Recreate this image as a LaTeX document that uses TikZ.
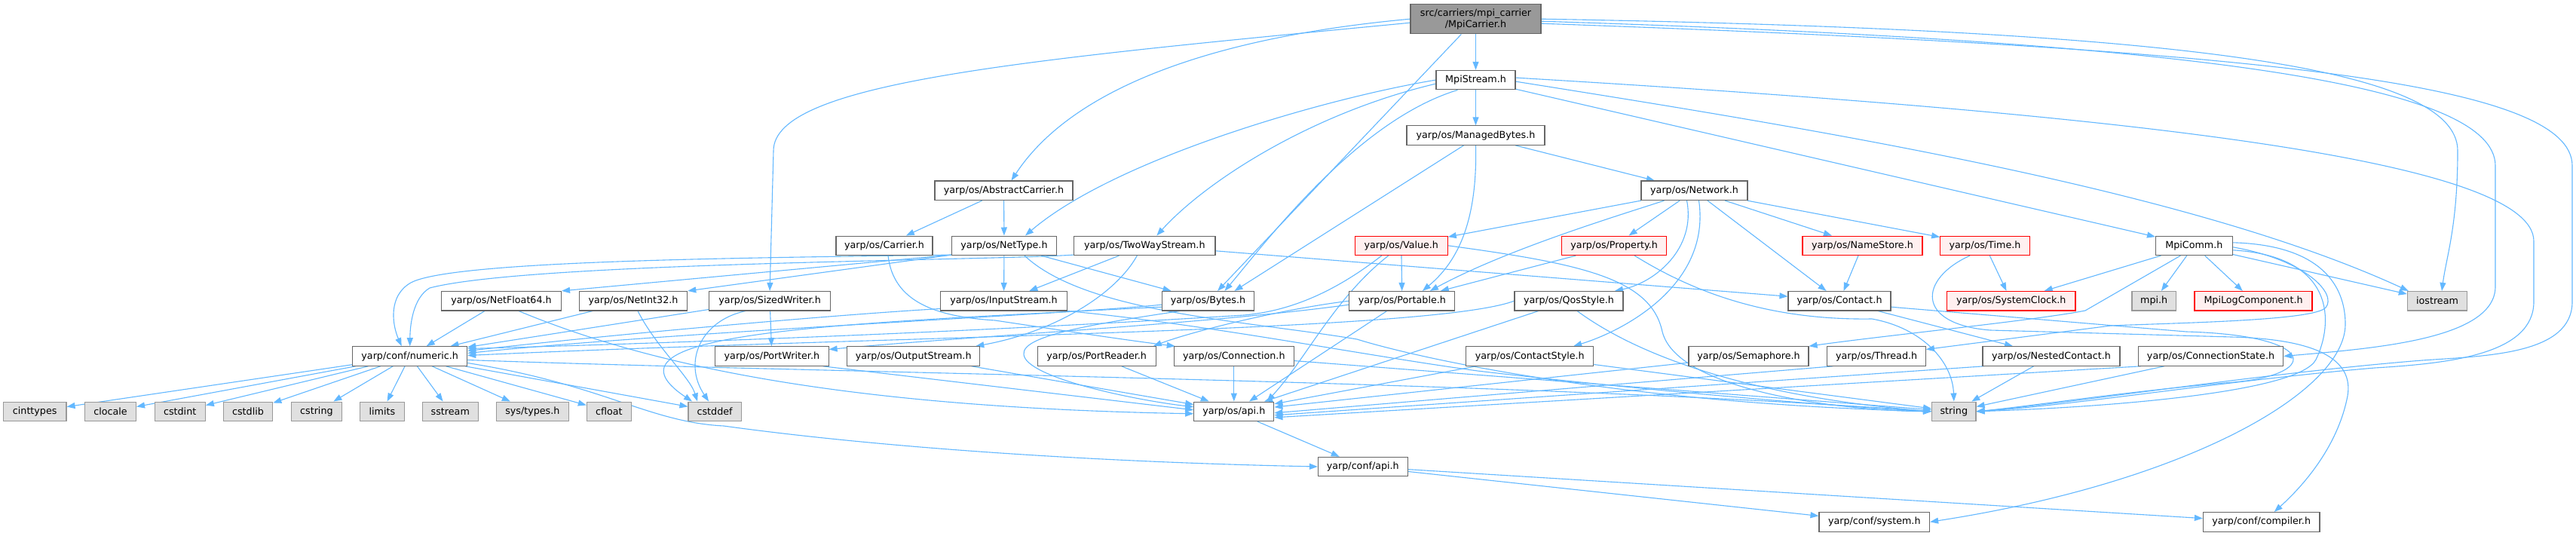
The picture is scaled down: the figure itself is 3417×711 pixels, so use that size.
\documentclass[tikz,border=0pt]{standalone}
\usepackage{fontspec}
\setmainfont{DejaVu Sans}
\usetikzlibrary{arrows.meta,calc}
\pgfdeclarelayer{bg}
\pgfsetlayers{bg,main}
\definecolor{eb}{HTML}{63B8FF}
\definecolor{nbd}{HTML}{666666}
\definecolor{rootfill}{HTML}{999999}
\definecolor{extfill}{HTML}{E0E0E0}
\definecolor{extbd}{HTML}{999999}
\definecolor{redfill}{HTML}{FFF0F0}
\begin{document}
\begin{tikzpicture}[x=1pt,y=-1pt,
  nb/.style={draw=nbd, line width=1.1pt, fill=white, minimum height=25.5pt, inner sep=0pt, font=\fontsize{12.7pt}{15.2pt}\selectfont, text=black},
  rootn/.style={nb, fill=rootfill},
  ext/.style={nb, draw=extbd, fill=extfill},
  trn/.style={nb, draw=red, fill=redfill},
  e/.style={draw=eb, line width=1.1pt, -{Triangle[length=11pt,width=8pt]}}]
\path[use as bounding box] (0,0) rectangle (3417,711);
% row 0-3
\node[rootn, minimum width=173pt, minimum height=39.5pt, align=center] (root) at (1957.5,25.2) {src/carriers/mpi\_carrier\\/MpiCarrier.h};
\node[nb, minimum width=105pt] (MS) at (1957.5,106.1) {MpiStream.h};
\node[nb, minimum width=183pt] (MB) at (1957.5,179.6) {yarp/os/ManagedBytes.h};
\node[nb, minimum width=183pt] (AC) at (1331.5,252.8) {yarp/os/AbstractCarrier.h};
\node[nb, minimum width=141pt] (NW) at (2247.5,252.8) {yarp/os/Network.h};
% row 4
\node[nb, minimum width=128pt] (CR) at (1173,325.8) {yarp/os/Carrier.h};
\node[nb, minimum width=139pt] (NT) at (1332,325.8) {yarp/os/NetType.h};
\node[nb, minimum width=187.4pt] (TW) at (1518.3,325.8) {yarp/os/TwoWayStream.h};
\node[trn, minimum width=123pt] (VL) at (1858.75,325.8) {yarp/os/Value.h};
\node[trn, minimum width=138.8pt] (PR) at (2141.2,325.8) {yarp/os/Property.h};
\node[trn, minimum width=159pt] (NS) at (2470.5,325.8) {yarp/os/NameStore.h};
\node[trn, minimum width=118.7pt] (TM) at (2633,325.8) {yarp/os/Time.h};
\node[nb, minimum width=101.8pt] (MC) at (2910.4,325.8) {MpiComm.h};
% row 5
\node[nb, minimum width=159pt] (NF) at (665,399.2) {yarp/os/NetFloat64.h};
\node[nb, minimum width=143.5pt] (NI) at (840,399.2) {yarp/os/NetInt32.h};
\node[nb, minimum width=160.8pt] (SW) at (1021.1,399.2) {yarp/os/SizedWriter.h};
\node[nb, minimum width=167.5pt] (IS) at (1331.5,399.2) {yarp/os/InputStream.h};
\node[nb, minimum width=122.5pt] (BY) at (1602.5,399.2) {yarp/os/Bytes.h};
\node[nb, minimum width=140pt] (PT) at (1859.9,399.2) {yarp/os/Portable.h};
\node[nb, minimum width=144pt] (QS) at (2081,399.2) {yarp/os/QosStyle.h};
\node[nb, minimum width=136pt] (CT) at (2440,399.2) {yarp/os/Contact.h};
\node[trn, minimum width=170.5pt] (SC) at (2667.75,399.2) {yarp/os/SystemClock.h};
\node[ext, minimum width=58.4pt] (MPI) at (2857.2,399.2) {mpi.h};
\node[trn, minimum width=156pt] (ML) at (2989,399.2) {MpiLogComponent.h};
\node[ext, minimum width=79.4pt] (IO) at (3233,399.2) {iostream};
% row 6
\node[nb, minimum width=152pt] (NM) at (543.7,472.5) {yarp/conf/numeric.h};
\node[nb, minimum width=150.3pt] (PW) at (1023.9,472.5) {yarp/os/PortWriter.h};
\node[nb, minimum width=176pt] (OS) at (1211.7,472.5) {yarp/os/OutputStream.h};
\node[nb, minimum width=157pt] (PRd) at (1454.7,472.5) {yarp/os/PortReader.h};
\node[nb, minimum width=159pt] (CN) at (1636.8,472.5) {yarp/os/Connection.h};
\node[nb, minimum width=169pt] (CSt) at (2029.2,472.5) {yarp/os/ContactStyle.h};
\node[nb, minimum width=159pt] (SM) at (2319.5,472.5) {yarp/os/Semaphore.h};
\node[nb, minimum width=130.4pt] (TH) at (2489.1,472.5) {yarp/os/Thread.h};
\node[nb, minimum width=182pt] (NC) at (2721,472.5) {yarp/os/NestedContact.h};
\node[nb, minimum width=192.4pt] (CS) at (2932.5,472.5) {yarp/os/ConnectionState.h};
% row 7
\node[ext, minimum width=83.6pt] (cint) at (46.2,545.8) {cinttypes};
\node[ext, minimum width=68pt] (cloc) at (146.5,545.8) {clocale};
\node[ext, minimum width=67.3pt] (cstdint) at (238.7,545.8) {cstdint};
\node[ext, minimum width=65.5pt] (cstdlib) at (329,545.8) {cstdlib};
\node[ext, minimum width=66.6pt] (cstring) at (419.9,545.8) {cstring};
\node[ext, minimum width=58.9pt] (limits) at (506.9,545.8) {limits};
\node[ext, minimum width=74pt] (sstream) at (597.3,545.8) {sstream};
\node[ext, minimum width=96pt] (systypes) at (706.3,545.8) {sys/types.h};
\node[ext, minimum width=58.9pt] (cfloat) at (807.8,545.8) {cfloat};
\node[ext, minimum width=70.2pt] (CDF) at (948.1,545.8) {cstddef};
\node[nb, minimum width=106.1pt] (OA) at (1636.8,545.8) {yarp/os/api.h};
\node[ext, minimum width=58.4pt] (STR) at (2591.8,545.8) {string};
% row 8-9
\node[nb, minimum width=118.8pt] (CA) at (1807.8,619) {yarp/conf/api.h};
\node[nb, minimum width=146.6pt] (SYS) at (2486.3,692.3) {yarp/conf/system.h};
\node[nb, minimum width=154.6pt] (CMP) at (2999.7,692.3) {yarp/conf/compiler.h};

\begin{pgfonlayer}{bg}
\fill[white] (0,0) rectangle (3417,711);
% root
\draw[e] (root) -- (MS);
\draw[e] (root.west) .. controls (1600,50) and (1420,120) .. ($(AC.north)+(10,0)$);
\draw[e] ($(root.west)+(0,5)$) .. controls (1350,80) and (1026,110) .. (1026,200) -- (SW.north);
\draw[e] (root) -- (BY);
\draw[e] (root.east) .. controls (2900,40) and (3260,90) .. (3260,200) .. controls (3260,300) and (3245,340) .. ($(IO.north)+(6,0)$);
\draw[e] ($(root.east)+(0,3)$) .. controls (2900,55) and (3310,110) .. (3310,220) -- (3310,380) .. controls (3310,450) and (3150,462) .. (CS.east);
\draw[e] ($(root.east)+(0,6)$) .. controls (3000,65) and (3412,110) .. (3412,220) -- (3412,400) .. controls (3412,470) and (3300,472) .. (3213,478) .. controls (3000,495) and (2750,535) .. (STR.east);
% MpiStream
\draw[e] (MS) -- (MB);
\draw[e] (MS.west) .. controls (1760,130) and (1480,210) .. ($(NT.north)+(28,0)$);
\draw[e] ($(MS.west)+(0,5)$) .. controls (1740,150) and (1600,240) .. ($(TW.north)+(16,0)$);
\draw[e] ($(MS.south)+(-24,0)$) .. controls (1800,160) and (1680,320) .. ($(BY.north)+(22,0)$);
\draw[e] (MS) -- (MC);
\draw[e] ($(MS.east)+(0,2)$) .. controls (2400,170) and (2900,250) .. ($(IO.north west)+(2,0)$);
\draw[e] ($(MS.east)+(0,-3)$) .. controls (2800,150) and (3361,210) .. (3361,320) -- (3361,400) .. controls (3361,470) and (3250,482) .. (3150,488) .. controls (2950,505) and (2750,538) .. (STR.east);
% ManagedBytes
\draw[e] (MB) -- (NW);
\draw[e] (MB.south) .. controls (1960,300) and (1930,350) .. ($(PT.north)+(27,0)$);
\draw[e] ($(MB.south)+(-16,0)$) -- ($(BY.north)+(35,0)$);
% AbstractCarrier
\draw[e] (AC) -- (CR);
\draw[e] (AC) -- (NT);
% Network
\draw[e] (NW) -- (VL);
\draw[e] ($(NW.south)+(-40,0)$) .. controls (2150,285) and (2000,330) .. ($(PT.north)+(37,0)$);
\draw[e] (NW) -- (PR);
\draw[e] ($(NW.south)+(-10,0)$) .. controls (2250,330) and (2195,375) .. ($(QS.north)+(61,0)$);
\draw[e] ($(NW.south)+(6,0)$) .. controls (2270,380) and (2150,440) .. ($(CSt.north)+(58,0)$);
\draw[e] (NW) -- (NS);
\draw[e] (NW) -- (TM);
\draw[e] (NW) -- (CT);
% Value
\draw[e] (VL) -- (PT);
\draw[e] (VL.east) .. controls (2100,350) and (2190,370) .. (2205,440) .. controls (2225,520) and (2450,545) .. (STR.west);
\draw[e] ($(VL.south)+(-26,0)$) .. controls (1780,380) and (1720,412) .. (1650,418) .. controls (1300,440) and (900,455) .. ($(NM.east)+(0,-10)$);
\draw[e] ($(VL.south)+(-17,0)$) .. controls (1770,395) and (1730,480) .. ($(OA.north east)+(-10,0)$);
% Property
\draw[e] (PR) -- (PT);
\draw[e] ($(PR.south)+(27,0)$) .. controls (2250,390) and (2350,425) .. (2483,423) .. controls (2550,435) and (2590,480) .. (STR.north);
% QosStyle
\draw[e] (QS) -- (OA);
\draw[e] ($(QS.south)+(11,0)$) .. controls (2130,440) and (2250,520) .. (STR.west);
\draw[e] (QS.west) .. controls (1900,440) and (1200,445) .. ($(NM.east)+(0,-1)$);
% ContactStyle
\draw[e] (CSt) -- (OA);
\draw[e] (CSt) -- (STR);
% Portable
\draw[e] (PT) -- (OA);
\draw[e] (PT.west) .. controls (1700,410) and (1580,440) .. ($(PRd.north east)+(-4,0)$);
\draw[e] ($(PT.west)+(0,5)$) .. controls (1600,430) and (1300,445) .. ($(PW.east)+(0,-9)$);
% Bytes
\draw[e] ($(BY.west)+(0,5)$) .. controls (1400,418) and (900,440) .. ($(NM.east)+(0,-4)$);
\draw[e] ($(BY.south)+(-37,0)$) .. controls (1450,430) and (1355,445) .. (1358,470) .. controls (1360,500) and (1500,530) .. ($(OA.west)+(0,-6)$);
\draw[e] ($(BY.west)+(0,8)$) .. controls (1100,430) and (780,440) .. ($(CDF.north)+(-30,0)$);
% InputStream
\draw[e] ($(IS.south west)+(0,-3)$) .. controls (1100,418) and (800,445) .. ($(NM.east)+(0,-7)$);
\draw[e] (IS.south east) .. controls (1600,430) and (1800,470) .. (1960,492) .. controls (2200,520) and (2450,540) .. (STR.west);
% TwoWayStream
\draw[e] (TW) -- (IS);
\draw[e] ($(TW.south)+(-10,0)$) .. controls (1480,390) and (1400,440) .. ($(OS.north east)+(-6,0)$);
\draw[e] ($(TW.east)+(0,7)$) -- ($(CT.west)+(0,-6)$);
\draw[e] ($(TW.south west)+(0,-1)$) .. controls (1300,346) and (700,348) .. (570,382) .. controls (548,395) and (544,430) .. (NM.north);
% NetType
\draw[e] (NT) -- (IS);
\draw[e] (NT) -- (BY);
\draw[e] ($(NT.south west)+(0,-1)$) -- (NF.north east);
\draw[e] ($(NT.south west)+(0,-1)$) -- (NI.north east);
\draw[e] ($(NT.south west)+(0,-1)$) .. controls (1000,342) and (600,345) .. (545,375) .. controls (515,392) and (520,430) .. ($(NM.north)+(-11,0)$);
\draw[e] ($(NT.south)+(27,0)$) .. controls (1440,415) and (1650,425) .. (1800,450) .. controls (1880,475) and (2150,535) .. (STR.west);
% Carrier
\draw[e] ($(CR.south)+(5,0)$) .. controls (1185,400) and (1240,420) .. (1320,425) .. controls (1420,440) and (1500,452) .. ($(CN.north west)+(2,0)$);
% SizedWriter
\draw[e] (SW) -- (PW);
\draw[e] ($(SW.south west)+(0,-2)$) -- ($(NM.east)+(0,-12)$);
\draw[e] ($(SW.south)+(-32,0)$) .. controls (930,425) and (905,480) .. ($(CDF.north)+(-8,0)$);
% NetFloat64 / NetInt32
\draw[e] (NF) -- (NM);
\draw[e] ($(NF.south)+(23,0)$) .. controls (850,480) and (1100,540) .. ($(OA.west)+(0,3)$);
\draw[e] (NI) -- (NM);
\draw[e] ($(NI.south)+(6,0)$) .. controls (870,460) and (915,500) .. ($(CDF.north)+(-23,0)$);
% numeric
\foreach \nn in {cint,cloc,cstdint,cstdlib,cstring,limits,sstream,systypes,cfloat,CDF} \draw[e] (NM) -- (\nn);
\draw[e] ($(NM.east)+(0,9)$) .. controls (800,510) and (860,560) .. (960,565) .. controls (1200,598) and (1500,614) .. (CA.west);
\draw[e] ($(NM.east)+(0,5)$) .. controls (1100,495) and (2000,505) .. (STR.west);
% row 6 to api / string
\draw[e] (OS) -- (OA);
\draw[e] ($(PW.south east)+(-8,0)$) -- ($(OA.west)+(0,-2)$);
\draw[e] (PRd) -- (OA);
\draw[e] (CN) -- (OA);
\draw[e] (CN) -- (STR);
\draw[e] (SM) -- (OA);
\draw[e] ($(TH.south west)+(8,0)$) -- ($(OA.east)+(0,2)$);
\draw[e] ($(NC.south west)+(2,0)$) -- ($(OA.east)+(0,5)$);
\draw[e] (NC) -- (STR);
\draw[e] ($(CS.south west)+(4,0)$) -- ($(OA.east)+(0,8)$);
\draw[e] (CS) -- (STR);
% Contact
\draw[e] (CT) -- (NC);
\draw[e] ($(CT.east)+(0,8)$) -- (2900,440) .. controls (3080,445) and (3080,500) .. (2950,508) .. controls (2800,522) and (2700,538) .. (STR.east);
% NameStore, Time
\draw[e] (NS) -- (CT);
\draw[e] (TM) -- (SC);
\draw[e] ($(TM.south)+(-20,0)$) .. controls (2545,370) and (2540,430) .. (2640,438) -- (2960,447) .. controls (3080,450) and (3125,480) .. (3113,530) .. controls (3100,590) and (3060,640) .. ($(CMP.north)+(17,0)$);
% MpiComm
\draw[e] (MC) -- (SC);
\draw[e] ($(MC.south)+(-18,0)$) -- (2766,412) .. controls (2700,425) and (2500,445) .. (SM.north east);
\draw[e] (MC) -- (MPI);
\draw[e] (MC) -- (ML);
\draw[e] (MC) -- (IO);
\draw[e] ($(MC.east)+(0,2)$) .. controls (3060,345) and (3100,390) .. (3085,408) .. controls (3070,425) and (2900,428) .. (2800,432) -- ($(TH.east)+(0,-9)$);
\draw[e] ($(MC.east)+(0,-4)$) .. controls (3080,325) and (3111,380) .. (3111,430) .. controls (3111,520) and (2900,640) .. (SYS.east);
\draw[e] ($(MC.east)+(0,6)$) .. controls (3100,340) and (3095,430) .. (3072,477) .. controls (3050,520) and (2800,540) .. (STR.east);
% api
\draw[e] (OA) -- (CA);
\draw[e] (CA) -- (SYS);
\draw[e] (CA) -- (CMP);
\end{pgfonlayer}
\end{tikzpicture}
\end{document}
